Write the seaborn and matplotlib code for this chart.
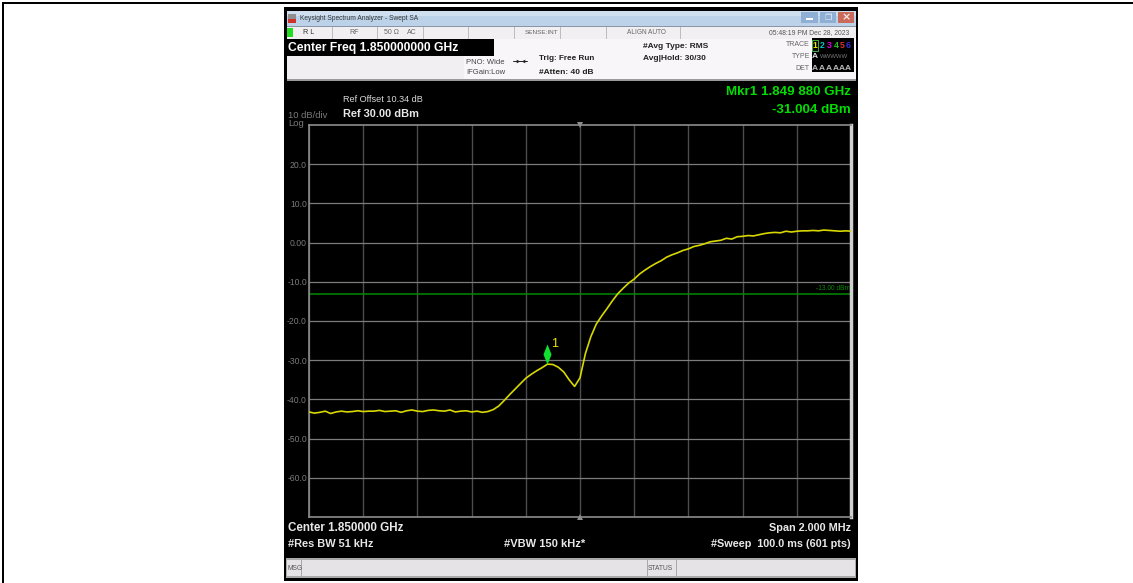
import matplotlib
matplotlib.use("Agg")
import matplotlib.pyplot as plt
from matplotlib.patches import Rectangle
import pandas as pd
import seaborn as sns

# ---- data ----
offset_khz = [-1000,-980,-960,-940,-920,-900,-880,-860,-840,-820,-800,-780,-760,-740,-720,-700,-680,-660,-640,-620,
              -600,-580,-560,-540,-520,-500,-480,-460,-440,-420,-400,-380,-360,-340,-320,-300,-280,-260,-240,-220,
              -200,-180,-160,-140,-120,-100,-80,-60,-40,-20,0,20,40,60,80,100,120,140,160,180,
              200,220,240,260,280,300,320,340,360,380,400,420,440,460,480,500,520,540,560,580,
              600,620,640,660,680,700,720,740,760,780,800,820,840,860,880,900,920,940,960,980,1000]
level_dbm = [-43.2,-43.5,-43.3,-43.0,-43.6,-43.2,-43.0,-43.2,-43.1,-42.9,-43.1,-43.0,-43.0,-42.8,-43.1,-43.0,-42.9,-43.3,-42.9,-42.7,
             -43.0,-43.1,-42.8,-42.7,-42.9,-43.0,-42.7,-43.2,-43.0,-42.9,-43.2,-43.0,-43.3,-43.1,-42.6,-41.7,-40.3,-38.8,-37.4,-36.0,
             -34.6,-33.6,-32.7,-31.9,-31.0,-31.1,-31.8,-33.0,-35.0,-36.7,-34.5,-28.3,-24.0,-20.8,-18.7,-16.8,-14.8,-13.0,-11.6,-10.3,
             -9.3,-8.0,-7.0,-6.1,-5.3,-4.6,-3.7,-3.1,-2.6,-2.0,-1.6,-1.0,-0.7,-0.3,0.2,0.4,0.6,1.1,0.9,1.5,
             1.6,1.8,1.7,2.0,2.3,2.5,2.6,2.5,2.9,2.7,2.9,3.0,3.0,3.1,3.0,3.2,3.1,3.0,2.9,3.0,2.9]
y_ticks = [20, 10, 0, -10, -20, -30, -40, -50, -60]
y_tick_labels = ["20.0", "10.0", "0.00", "-10.0", "-20.0", "-30.0", "-40.0", "-50.0", "-60.0"]
x_ticks = [-1000, -800, -600, -400, -200, 0, 200, 400, 600, 800, 1000]
limit_dbm = -13
marker_khz = -120
marker_dbm = -28.4

W, H = 1133, 583
sns.set_theme(style="white")
plt.rcParams["font.family"] = ["Liberation Sans", "DejaVu Sans"]

fig = plt.figure(figsize=(W / 100, H / 100), dpi=100, facecolor="white")

# page-sized layer, in pixels, for the instrument window
bg = fig.add_axes([0, 0, 1, 1], zorder=1)
bg.set_xlim(0, W)
bg.set_ylim(H, 0)
bg.axis("off")


def box(x0, y0, x1, y1, color, **kw):
    bg.add_patch(Rectangle((x0, y0), x1 - x0, y1 - y0, facecolor=color, edgecolor="none", **kw))


def label(x, y, s, size=7.5, color="#222222", weight="normal", ha="left", **kw):
    bg.text(x, y, s, fontsize=size, color=color, fontweight=weight, ha=ha, va="center", **kw)


# page border
box(2, 2, W, 4, "black")
box(2, 2, 4, H, "black")

# window
box(284, 7, 858, 581, "black")
box(287, 11, 856, 26, "#bcd2e8")
box(287, 11, 856, 16, "#cfdff0")
box(287, 26, 856, 27, "#8a96a3")
box(287, 27, 856, 39, "#f1eff1")
box(287, 39, 856, 80, "#f8f6f8")
box(287, 56, 464, 79, "#f1eff1")
box(287, 39, 494, 56, "black")
box(287, 79, 856, 81, "#9a9a9a")
box(286, 81, 856, 556, "black")
box(286, 558, 856, 578, "#a9a9a9")
box(287, 560, 855, 576, "#e6e3e7")

# title bar
box(288, 14, 296, 19, "#8f8f8f")
box(288, 19, 296, 23, "#d0312d")
label(300, 18, "Keysight Spectrum Analyzer - Swept SA", size=4.8, color="#333333")
box(801, 12, 818, 23, "#8fb0d4")
box(820, 12, 836, 23, "#8fb0d4")
box(838, 12, 854, 23, "#c96a5a")
box(806, 18, 813, 19.5, "white")
label(828, 17.5, "❐", size=6, color="#e8eef5", ha="center", family="DejaVu Sans")
label(846, 17.5, "×", size=8, color="#f5e8e6", ha="center", weight="bold", family="DejaVu Sans")

# status row
for sep in [332, 377, 423, 468, 514, 560, 606, 680]:
    box(sep, 27, sep + 1, 39, "#bdbdbd")
box(287, 28, 293, 37, "#22dd22")
label(303, 33, "R L", size=5.2, color="#333333")
label(354, 33, "RF", size=5, color="#666666", ha="center")
label(391, 33, "50 Ω", size=5, color="#666666", ha="center")
label(412, 33, "AC", size=5, color="#666666", ha="center")
label(542, 33, "SENSE:INT", size=4.6, color="#666666", ha="center")
label(646, 33, "ALIGN AUTO", size=4.7, color="#666666", ha="center")
label(849, 33, "05:48:19 PM Dec 28, 2023", size=4.9, color="#555555", ha="right")

# settings
label(288, 48, "Center Freq 1.850000000 GHz", size=8.7, color="white", weight="bold")
label(466, 62, "PNO: Wide", size=5.5, color="#444444")
label(466, 73, "IFGain:Low", size=5.5, color="#444444")
bg.plot([513, 527], [61, 61], color="#222222", lw=0.7)
bg.plot([518], [61], marker=">", ms=2.6, color="#222222", mew=0)
bg.plot([523], [61], marker="<", ms=2.6, color="#222222", mew=0)
label(539, 58, "Trig: Free Run", size=5.9, color="#222222", weight="bold")
label(539, 72, "#Atten: 40 dB", size=6, color="#222222", weight="bold")
label(643, 46, "#Avg Type: RMS", size=6, color="#222222", weight="bold")
label(643, 58, "Avg|Hold: 30/30", size=6, color="#222222", weight="bold")

# trace table
box(812, 38, 854, 72, "black")
for txt, yy in [("TRACE", 45), ("TYPE", 57), ("DET", 68)]:
    label(810, yy, txt, size=5, color="#666666", ha="right")
trace_digits = ["1", "2", "3", "4", "5", "6"]
trace_colors = ["#e8e800", "#00c8c8", "#e000e0", "#20c020", "#e03030", "#3030e0"]
trace_x = [815, 822, 829, 836, 842, 848]
for d, c, xx in zip(trace_digits, trace_colors, trace_x):
    label(xx, 45.5, d, size=6.2, color=c, ha="center", weight="bold")
bg.add_patch(Rectangle((812, 40), 6, 11, fill=False, edgecolor="#40b040", lw=0.7))
label(815, 57, "A", size=6, color="#dddddd", ha="center", weight="bold")
label(820, 57, "WWWWW", size=4.3, color="#777777")
for xx in trace_x:
    label(xx, 68, "A", size=6, color="#bbbbbb", ha="center", weight="bold")

# readouts
label(343, 100, "Ref Offset 10.34 dB", size=6.6, color="#d8d8d8")
label(343, 114, "Ref 30.00 dBm", size=7.9, color="#e8e8e8", weight="bold")
label(288, 115, "10 dB/div", size=6.8, color="#7a7a7a")
label(288, 124, "Log", size=6.8, color="#7a7a7a")
label(851, 92, "Mkr1 1.849 880 GHz", size=9.6, color="#00dd00", weight="bold", ha="right")
label(851, 110, "-31.004 dBm", size=9.6, color="#00dd00", weight="bold", ha="right")

label(288, 528, "Center 1.850000 GHz", size=8.4, color="#e8e8e8", weight="bold")
label(851, 528, "Span 2.000 MHz", size=7.8, color="#e8e8e8", weight="bold", ha="right")
label(288, 544, "#Res BW 51 kHz", size=7.9, color="#e8e8e8", weight="bold")
label(504, 544, "#VBW 150 kHz*", size=8.0, color="#e8e8e8", weight="bold")
label(851, 544, "#Sweep  100.0 ms (601 pts)", size=7.8, color="#e8e8e8", weight="bold", ha="right")

# message bar
for sep in [301, 647, 676]:
    box(sep, 560, sep + 1, 576, "#a9a9a9")
label(287, 568, "MSG", size=4.8, color="#555555")
label(648, 568, "STATUS", size=4.8, color="#555555")

# the spectrum plot
left, right, top, bottom = 309, 851, 125, 517
ax = fig.add_axes([left / W, 1 - bottom / H, (right - left) / W, (bottom - top) / H], zorder=2)
ax.set_facecolor("black")
ax.set_xlim(-1000, 1000)
ax.set_ylim(-70, 30)
ax.set_xticks(x_ticks)
ax.set_yticks(y_ticks)
ax.set_yticklabels(y_tick_labels)
ax.tick_params(axis="y", length=0, pad=1.5, labelsize=6.2, labelcolor="#7a7a7a")
ax.tick_params(axis="x", length=0, labelbottom=False)
ax.xaxis.grid(True, color="#4c4c4c", lw=1)
ax.yaxis.grid(True, color="#7c7c7c", lw=0.9)
ax.set_axisbelow(True)
for name, spine in ax.spines.items():
    spine.set_color("#8c8c8c")
    spine.set_linewidth(1.2)
ax.spines["right"].set_color("#d0d0d0")
ax.spines["right"].set_linewidth(2.5)

ax.axhline(limit_dbm, color="#008a00", lw=1.1, zorder=2)
ax.text(998, limit_dbm + 1.3, "-13.00 dBm", color="#0a8a0a", fontsize=4.8, ha="right", va="center")

df = pd.DataFrame({"offset_khz": offset_khz, "level_dbm": level_dbm})
sns.lineplot(data=df, x="offset_khz", y="level_dbm", ax=ax, color="#d8d800", lw=1.2, zorder=3,
             errorbar=None, estimator=None)
ax.set_xlabel("")
ax.set_ylabel("")

ax.plot([marker_khz], [marker_dbm], marker=[(0, 1), (0.4, 0), (0, -1), (-0.4, 0)],
        color="#10e030", mew=0, ms=14.5, zorder=4)
ax.text(marker_khz + 25, marker_dbm + 2.6, "1", color="#e8e800", fontsize=9, ha="center", va="center")

ax.plot([0], [30], marker="v", color="#8c8c8c", ms=5, mew=0, clip_on=False, zorder=4)
ax.plot([0], [-70], marker="^", color="#8c8c8c", ms=5, mew=0, clip_on=False, zorder=4)

fig.savefig("out.png", dpi=100, facecolor="white")
